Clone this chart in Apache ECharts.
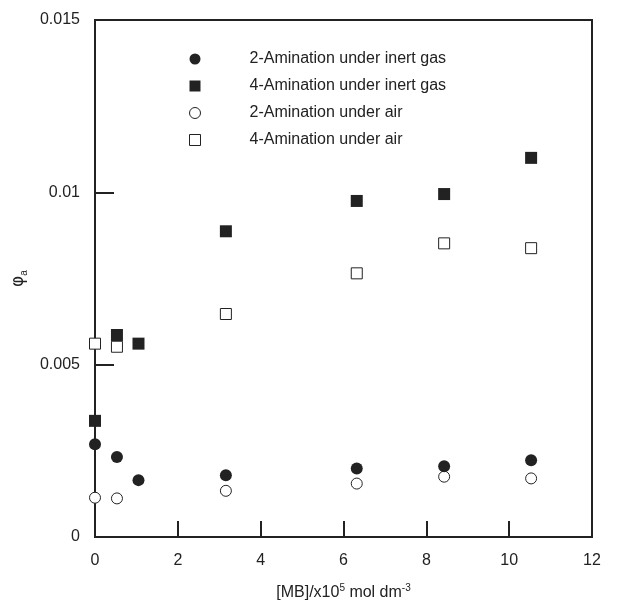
<!DOCTYPE html>
<html>
<head>
<meta charset="utf-8">
<script src="https://cdn.jsdelivr.net/npm/echarts@6/dist/echarts.min.js"></script>
<style>
  html, body { margin: 0; padding: 0; background: #fff; }
  #chart { width: 621px; height: 606px; }
</style>
</head>
<body>
<div id="chart"></div>
<script>
// [MB] concentrations (x10^5 mol dm^-3)
const xInert = [0, 0.53, 1.05, 3.16, 6.32, 8.43, 10.53];
const xAir = [0, 0.53, 3.16, 6.32, 8.43, 10.53];
// quantum yields
const y2Inert = [0.00269, 0.00232, 0.00165, 0.00179, 0.00199, 0.00205, 0.00223];
const y4Inert = [0.00337, 0.00586, 0.00561, 0.00887, 0.00975, 0.00995, 0.0110];
const y2Air = [0.00114, 0.00112, 0.00134, 0.00155, 0.00175, 0.0017];
const y4Air = [0.00561, 0.00552, 0.00647, 0.00765, 0.00852, 0.00838];
const seriesNames = [
    '2-Amination under inert gas',
    '4-Amination under inert gas',
    '2-Amination under air',
    '4-Amination under air',
];

const ink = '#222';
const font = 'Liberation Sans, Arial, sans-serif';
const pair = (xs, ys) => xs.map((x, i) => [x, ys[i]]);

const filled = { color: ink, opacity: 1 };
const hollow = { color: '#fff', borderColor: ink, borderWidth: 1, opacity: 1 };

let myChart = echarts.init(document.getElementById('chart'));
myChart.setOption({
    animation: false,
    textStyle: { fontFamily: font, color: ink },
    grid: {
        left: 95,
        right: 29,
        top: 20,
        bottom: 69,
        show: true,
        borderColor: ink,
        borderWidth: 2,
    },
    legend: {
        orient: 'vertical',
        left: 184,
        top: 46,
        itemWidth: 11,
        itemHeight: 11,
        itemGap: 11,
        data: seriesNames,
        itemStyle: { borderWidth: 1 },
        textStyle: {
            fontFamily: font,
            fontSize: 16,
            color: ink,
            padding: [0, 0, 0, 44],
        },
    },
    xAxis: {
        type: 'value',
        min: 0,
        max: 12,
        interval: 2,
        name: '{t|[MB]/x10}{s|5}{t| mol dm}{s|-3}',
        nameLocation: 'middle',
        nameGap: 46,
        nameTextStyle: {
            rich: {
                t: { fontSize: 16, fontFamily: font, color: ink, verticalAlign: 'bottom' },
                s: { fontSize: 10, fontFamily: font, color: ink, verticalAlign: 'top', padding: [0, 0, 8, 0] },
            },
        },
        axisLine: { lineStyle: { color: ink, width: 2 } },
        axisTick: { inside: true, length: 16, lineStyle: { color: ink, width: 2 } },
        axisLabel: { fontSize: 16, color: ink, margin: 16, fontFamily: font },
        splitLine: { show: false },
    },
    yAxis: {
        type: 'value',
        min: 0,
        max: 0.015,
        interval: 0.005,
        name: '{t|φ}{s|a}',
        nameLocation: 'middle',
        nameGap: 66,
        nameTextStyle: {
            rich: {
                t: { fontSize: 17, fontFamily: 'DejaVu Sans, sans-serif', color: ink },
                s: { fontSize: 10, fontFamily: font, color: ink, padding: [10, 0, 0, 0] },
            },
        },
        axisLine: { lineStyle: { color: ink, width: 2 } },
        axisTick: { inside: true, length: 19, lineStyle: { color: ink, width: 2 } },
        axisLabel: { fontSize: 16, color: ink, margin: 15, fontFamily: font },
        splitLine: { show: false },
    },
    series: [
        {
            name: seriesNames[2],
            type: 'scatter',
            symbol: 'circle',
            symbolSize: 11,
            clip: false,
            itemStyle: hollow,
            data: pair(xAir, y2Air),
        },
        {
            name: seriesNames[3],
            type: 'scatter',
            symbol: 'rect',
            symbolSize: 11,
            clip: false,
            itemStyle: hollow,
            data: pair(xAir, y4Air),
        },
        {
            name: seriesNames[0],
            type: 'scatter',
            symbol: 'circle',
            symbolSize: 12,
            clip: false,
            itemStyle: filled,
            data: pair(xInert, y2Inert),
        },
        {
            name: seriesNames[1],
            type: 'scatter',
            symbol: 'rect',
            symbolSize: 12,
            clip: false,
            itemStyle: filled,
            data: pair(xInert, y4Inert),
        },
    ],
});
</script>
</body>
</html>
